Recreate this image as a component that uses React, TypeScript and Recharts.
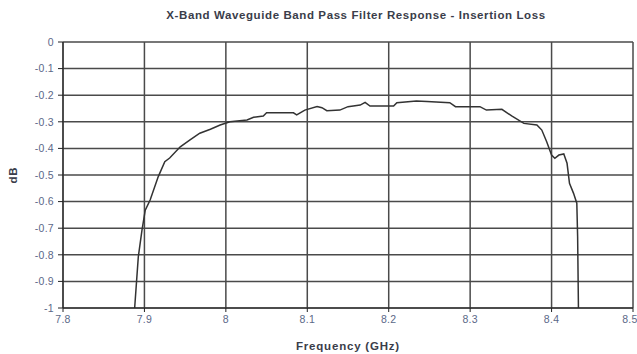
import React from "react";
import { LineChart, Line, XAxis, YAxis, CartesianGrid } from "recharts";

const frequencies = [
  7.888, 7.8925, 7.897, 7.901, 7.907, 7.917, 7.925, 7.931, 7.944, 7.956, 7.968, 7.981, 7.993,
  8.005, 8.026, 8.034, 8.046, 8.05, 8.083, 8.087, 8.097, 8.112, 8.118, 8.124, 8.14, 8.15,
  8.165, 8.171, 8.177, 8.206, 8.21, 8.234, 8.247, 8.275, 8.282, 8.312, 8.32, 8.339, 8.351,
  8.366, 8.382, 8.388, 8.394, 8.4, 8.404, 8.409, 8.415, 8.419, 8.422, 8.427, 8.431, 8.432, 8.433,
];
const insertionLoss = [
  -1.0, -0.807, -0.707, -0.632, -0.594, -0.506, -0.45, -0.436, -0.394, -0.368, -0.343, -0.328, -0.312,
  -0.3, -0.293, -0.283, -0.278, -0.266, -0.266, -0.274, -0.256, -0.243, -0.247, -0.258, -0.256, -0.243,
  -0.237, -0.227, -0.241, -0.241, -0.228, -0.222, -0.224, -0.228, -0.243, -0.243, -0.256, -0.253, -0.278,
  -0.306, -0.312, -0.331, -0.375, -0.425, -0.437, -0.425, -0.421, -0.456, -0.531, -0.569, -0.606, -0.732, -1.0,
];
const xTicks = [7.8, 7.9, 8.0, 8.1, 8.2, 8.3, 8.4, 8.5];
const xTickLabels = ["7.8", "7.9", "8", "8.1", "8.2", "8.3", "8.4", "8.5"];
const yTicks = [0, -0.1, -0.2, -0.3, -0.4, -0.5, -0.6, -0.7, -0.8, -0.9, -1];
const yTickLabels = ["0", "-0.1", "-0.2", "-0.3", "-0.4", "-0.5", "-0.6", "-0.7", "-0.8", "-0.9", "-1"];

const data = frequencies.map((f, i) => ({ f, db: insertionLoss[i] }));

const font = "'Liberation Sans', Arial, sans-serif";
const tickStyle = { fontSize: 10.5, fill: "#5b6888", fontFamily: font, letterSpacing: 0.3 };
const labelStyle = { fontSize: 11.5, fontWeight: "bold", fill: "#3a3d4a", fontFamily: font, letterSpacing: 0.8 };

export default function App() {
  return (
    <div style={{ position: "absolute", left: 0, top: 0, width: 637, height: 354, background: "#fff" }}>
      <div
        style={{
          position: "absolute",
          left: 0,
          width: 712,
          top: 8,
          textAlign: "center",
          fontFamily: font,
          fontWeight: "bold",
          fontSize: 11.5,
          letterSpacing: 0.6,
          color: "#3a3d4a",
          lineHeight: "14px",
        }}
      >
        X-Band Waveguide Band Pass Filter Response - Insertion Loss
      </div>
      <LineChart
        width={637}
        height={354}
        data={data}
        margin={{ top: 42, right: 4, bottom: 26, left: 23 }}
      >
        <CartesianGrid stroke="#4a4a4a" strokeWidth={1.5} horizontalValues={yTicks} verticalValues={xTicks} />
        <XAxis
          dataKey="f"
          type="number"
          domain={[7.8, 8.5]}
          ticks={xTicks}
          tickFormatter={(v: number) => xTickLabels[xTicks.findIndex((t) => Math.abs(t - v) < 1e-6)] ?? String(v)}
          tick={tickStyle}
          tickSize={4}
          tickMargin={4}
          stroke="#222"
          height={20}
          allowDataOverflow
          label={{
            value: "Frequency (GHz)",
            position: "insideBottom",
            offset: -22,
            style: labelStyle,
          }}
        />
        <YAxis
          type="number"
          domain={[-1, 0]}
          ticks={yTicks}
          tickFormatter={(v: number) => yTickLabels[yTicks.findIndex((t) => Math.abs(t - v) < 1e-6)] ?? String(v)}
          tick={tickStyle}
          tickSize={5}
          tickMargin={4}
          stroke="#222"
          width={40}
          allowDataOverflow
          label={{
            value: "dB",
            angle: -90,
            position: "insideLeft",
            offset: -10,
            style: { ...labelStyle, textAnchor: "middle" },
          }}
        />
        <Line
          type="linear"
          dataKey="db"
          stroke="#333"
          strokeWidth={1.5}
          dot={false}
          isAnimationActive={false}
        />
      </LineChart>
    </div>
  );
}
